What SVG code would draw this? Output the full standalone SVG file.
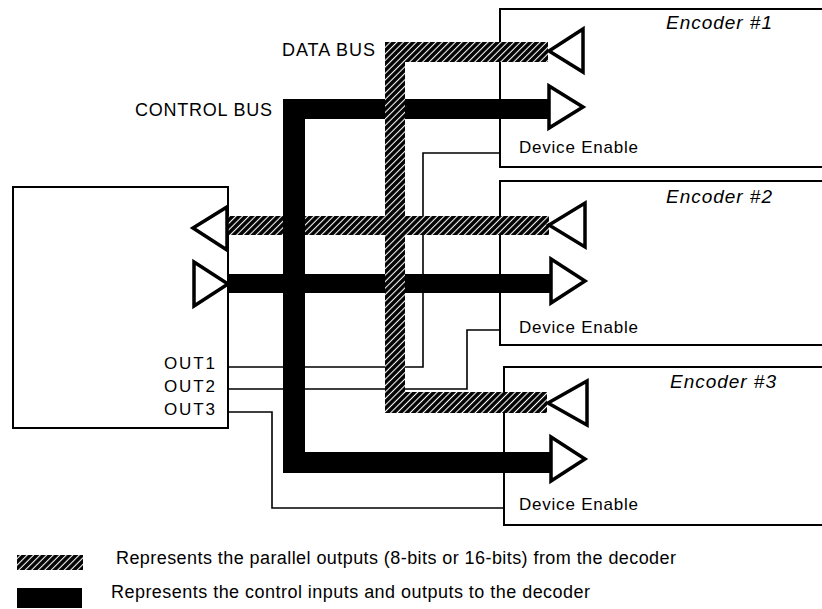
<svg xmlns="http://www.w3.org/2000/svg" width="822" height="609" viewBox="0 0 822 609">
<defs>
<pattern id="hatch" width="4.6" height="4.6" patternUnits="userSpaceOnUse" patternTransform="rotate(45)">
<rect width="4.6" height="4.6" fill="#000"/>
<line x1="2.3" y1="0" x2="2.3" y2="4.6" stroke="#fff" stroke-width="1.1"/>
</pattern>
</defs>
<style>
.box{fill:#fff;stroke:#000;stroke-width:2}
.wire{fill:none;stroke:#000;stroke-width:1.6}
.tri{fill:#fff;stroke:#000;stroke-width:3.5;stroke-linejoin:miter}
.data{fill:url(#hatch)}
.ctrl{fill:#000}
.t{font-family:"Liberation Sans",Arial,sans-serif;fill:#000}
.it{font-family:"Liberation Sans",Arial,sans-serif;font-style:italic;fill:#000}
</style>
<rect width="822" height="609" fill="#fff"/>

<g id="decoder">
<rect class="box" x="13" y="187" width="215" height="241"/>
<text class="t" x="164" y="369" font-size="17" textLength="51" lengthAdjust="spacing">OUT1</text>
<text class="t" x="164" y="392" font-size="17" textLength="51" lengthAdjust="spacing">OUT2</text>
<text class="t" x="164" y="415" font-size="17" textLength="51" lengthAdjust="spacing">OUT3</text>
</g>

<g id="encoder1">
<rect class="box" x="500" y="9" width="330" height="158"/>
<text class="it" x="666" y="29" font-size="19" textLength="106" lengthAdjust="spacing">Encoder #1</text>
<text class="t" x="519" y="153" font-size="17" textLength="119" lengthAdjust="spacing">Device Enable</text>
</g>

<g id="encoder2">
<rect class="box" x="500" y="181" width="330" height="164"/>
<text class="it" x="666" y="203" font-size="19" textLength="106" lengthAdjust="spacing">Encoder #2</text>
<text class="t" x="519" y="333" font-size="17" textLength="119" lengthAdjust="spacing">Device Enable</text>
</g>

<g id="encoder3">
<rect class="box" x="504" y="367" width="326" height="158"/>
<text class="it" x="670" y="388" font-size="19" textLength="106" lengthAdjust="spacing">Encoder #3</text>
<text class="t" x="519" y="510" font-size="17" textLength="119" lengthAdjust="spacing">Device Enable</text>
</g>

<g id="connectors">
<polyline class="wire" points="229,367 423,367 423,153 500,153"/>
<polyline class="wire" points="229,389 467,389 467,330 500,330"/>
<polyline class="wire" points="229,412 272,412 272,508 504,508"/>

<rect class="data" x="228" y="216" width="321" height="19"/>
<path class="ctrl" d="M283,99 H548 V119 H305 V452 H550 V473 H283 Z"/>
<rect class="ctrl" x="228" y="274" width="322" height="19"/>
<path class="data" d="M385,42 H548 V62 H405 V392 H547 V413 H385 Z"/>

<polygon class="tri" points="193,228 227,207 227,250"/>
<polygon class="tri" points="194,262 194,306 228,284"/>
<polygon class="tri" points="549,51 583,29 583,72"/>
<polygon class="tri" points="549,86 549,128 583,107"/>
<polygon class="tri" points="549,225 585,203 585,247"/>
<polygon class="tri" points="551,259 551,303 585,281"/>
<polygon class="tri" points="548,403 587,381 587,425"/>
<polygon class="tri" points="551,437 551,481 585,459"/>
</g>

<g id="labels">
<text class="t" x="282" y="56" font-size="18" textLength="93" lengthAdjust="spacing">DATA BUS</text>
<text class="t" x="135" y="116" font-size="18" textLength="137" lengthAdjust="spacing">CONTROL BUS</text>
</g>

<g id="legend">
<rect class="data" x="17" y="555" width="66" height="15"/>
<rect class="ctrl" x="17" y="588" width="65" height="20"/>
<text class="t" x="116" y="564" font-size="18" textLength="560" lengthAdjust="spacing">Represents the parallel outputs (8-bits or 16-bits) from the decoder</text>
<text class="t" x="111" y="598" font-size="18" textLength="479" lengthAdjust="spacing">Represents the control inputs and outputs to the decoder</text>
</g>
</svg>
